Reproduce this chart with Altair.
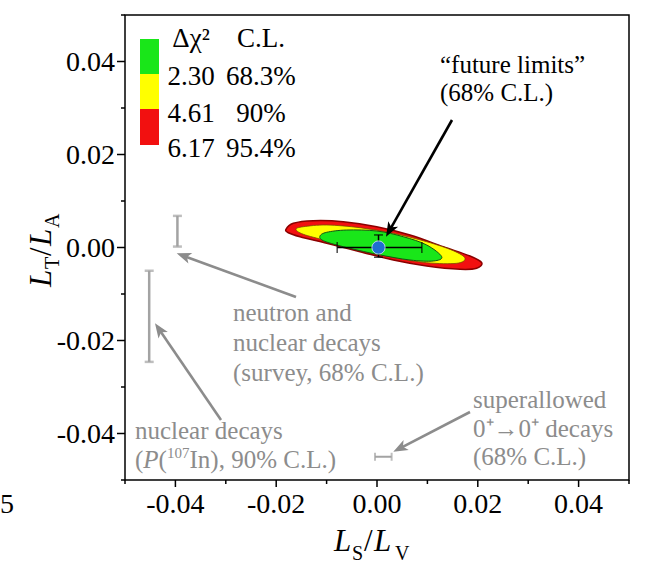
import math
import altair as alt
import pandas as pd

FONT = "Liberation Serif"
GRAY = "#8c8c8c"

# ---------------- axes ----------------
x_domain = [-0.05, 0.05]
y_domain = [-0.05, 0.05]
major_ticks = [-0.04, -0.02, 0.0, 0.02, 0.04]
tick_labels = ["-0.04", "-0.02", "0.00", "0.02", "0.04"]
minor_ticks = [-0.05, -0.03, -0.01, 0.01, 0.03, 0.05]

# ---------------- confidence contours ----------------
red_x = [-0.01806, -0.01661, -0.01264, -0.00669, -0.00006, 0.00655, 0.01315, 0.01845, 0.02077,
         0.01978, 0.01647, 0.00986, 0.00323, -0.00337, -0.00998, -0.01528, -0.01760]
red_y = [0.00391, 0.00520, 0.00576, 0.00555, 0.00447, 0.00269, 0.00017, -0.00183, -0.00327,
         -0.00447, -0.00469, -0.00398, -0.00269, -0.00090, 0.00090, 0.00232, 0.00318]
yellow_x = [-0.01607, -0.01462, -0.00998, -0.00337, 0.00323, 0.00986, 0.01514, 0.01746, 0.01581,
            0.00986, 0.00323, -0.00337, -0.00998, -0.01462]
yellow_y = [0.00391, 0.00447, 0.00484, 0.00426, 0.00305, 0.00125, -0.00069, -0.00232, -0.00340,
            -0.00327, -0.00211, -0.00039, 0.00146, 0.00284]
green_x = [-0.01131, -0.00998, -0.00601, -0.00006, 0.00522, 0.00986, 0.01284, 0.01117, 0.00655,
           -0.00006, -0.00669, -0.01065]
green_y = [0.00247, 0.00327, 0.00376, 0.00355, 0.00232, 0.00054, -0.00198, -0.00290, -0.00269,
           -0.00146, 0.00017, 0.00146]

# ---------------- "future limits" point with error bars ----------------
fut_x, fut_y = [0.0003], [0.0]
fut_xlo, fut_xhi = [-0.0079], [0.0089]
fut_ylo, fut_yhi = [-0.0021], [0.0027]

# ---------------- existing limits (gray) ----------------
gv_x = [-0.0396, -0.0452]          # vertical bars
gv_lo = [0.0002, -0.0246]
gv_hi = [0.0068, -0.0050]
gh_y = [-0.0450]                   # horizontal bar (superallowed)
gh_lo = [-0.0004]
gh_hi = [0.0029]

# ---------------- arrows (tail -> tip) ----------------
arr_tail_x = [0.01488, -0.01607, -0.03095, 0.01845]
arr_tail_y = [0.02742, -0.01065, -0.03710, -0.03538]
arr_tip_x = [0.00179, -0.03974, -0.04405, 0.00323]
arr_tip_y = [0.00232, -0.00125, -0.01630, -0.04391]
arr_color = ["black", GRAY, GRAY, GRAY]

# ---------------- legend ----------------
leg_colors = ["#19e619", "#ffff00", "#f21010"]
leg_x0, leg_x1 = -0.04702, -0.04325
leg_ytop = [0.04484, 0.03731, 0.02978]
leg_ybot = [0.03731, 0.02978, 0.02204]
leg_col1 = ["Δχ²", "2.30", "4.61", "6.17"]
leg_col2 = ["C.L.", "68.3%", "90%", "95.4%"]
leg_col_x = [-0.03690, -0.02302]
leg_row_y = [0.04312, 0.03495, 0.02699, 0.01946]

# ---------------- annotation texts ----------------
note_text = ["neutron and", "nuclear decays", "(survey, 68% C.L.)",
             "nuclear decays",
             "superallowed", "0⁺→0⁺ decays", "(68% C.L.)",
             "“future limits”", "(68% C.L.)"]
note_x = [-0.02857, -0.02857, -0.02857, -0.04802, 0.01905, 0.01905, 0.01905, 0.0125, 0.0125]
note_y = [-0.01581, -0.02226, -0.02871, -0.04118, -0.03452, -0.04075, -0.04677, 0.03753, 0.03151]
note_color = [GRAY] * 7 + ["black", "black"]

pin_text = ["(", "(", "In), 90% C.L.)"]
pin_x = [-0.04802, -0.04333, -0.03720]
pin_y = [-0.04742, -0.04742, -0.04742]
pin_P_x, pin_P_y = [-0.04637], [-0.04742]
pin_sup_x, pin_sup_y = [-0.04167], [-0.04527]

# ---------------- layout ----------------
W, H = 504, 465
PX_X = W / (x_domain[1] - x_domain[0])
PX_Y = H / (y_domain[1] - y_domain[0])

xsc = alt.Scale(domain=x_domain, nice=False, zero=False)
ysc = alt.Scale(domain=y_domain, nice=False, zero=False)


def X(f):
    return alt.X(f, type="quantitative", scale=xsc, axis=None)


def Y(f):
    return alt.Y(f, type="quantitative", scale=ysc, axis=None)


layers = []

# axis ticks (outside the frame) and tick labels
mj = pd.DataFrame({"v": major_ticks, "t": tick_labels})
mn = pd.DataFrame({"v": minor_ticks})
layers.append(alt.Chart(mj).mark_rule(color="black", strokeWidth=1.5).encode(
    x=X("v"), y=alt.value(H), y2=alt.value(H + 7)))
layers.append(alt.Chart(mj).mark_rule(color="black", strokeWidth=1.5).encode(
    y=Y("v"), x=alt.value(0), x2=alt.value(-8)))
layers.append(alt.Chart(mn).mark_rule(color="black", strokeWidth=1.5).encode(
    x=X("v"), y=alt.value(H), y2=alt.value(H + 4)))
layers.append(alt.Chart(mn).mark_rule(color="black", strokeWidth=1.5).encode(
    y=Y("v"), x=alt.value(0), x2=alt.value(-4)))
layers.append(alt.Chart(mj).mark_text(font=FONT, fontSize=28, align="center",
                                      baseline="alphabetic", color="black").encode(
    x=X("v"), y=alt.value(H + 33), text="t:N"))
layers.append(alt.Chart(mj).mark_text(font=FONT, fontSize=28, align="right",
                                      baseline="alphabetic", dy=9.5, color="black").encode(
    y=Y("v"), x=alt.value(-10), text="t:N"))


def contour(xs, ys, fill, stroke, sw):
    df = pd.DataFrame({"x": xs, "y": ys, "i": list(range(len(xs)))})
    return alt.Chart(df).mark_line(fill=fill, stroke=stroke, strokeWidth=sw,
                                   interpolate="cardinal-closed").encode(
        x=X("x"), y=Y("y"), order=alt.Order("i:Q"))


layers.append(contour(red_x, red_y, "#f21010", "#8b0000", 1.5))
layers.append(contour(yellow_x, yellow_y, "#ffff00", "#7a4a00", 0.8))
layers.append(contour(green_x, green_y, "#19e619", "#145214", 1.0))

# gray vertical error bars
gv = pd.DataFrame({"x": gv_x, "lo": gv_lo, "hi": gv_hi})
layers.append(alt.Chart(gv).mark_rule(color="#a3a3a3", strokeWidth=2.5).encode(
    x=X("x"), y=Y("lo"), y2="hi"))
gv_caps = pd.DataFrame({"x": gv_x + gv_x, "y": gv_lo + gv_hi})
layers.append(alt.Chart(gv_caps).mark_tick(color="#a3a3a3", orient="horizontal", size=9,
                                           thickness=2.5).encode(x=X("x"), y=Y("y")))
# gray horizontal error bar
gh = pd.DataFrame({"y": gh_y, "lo": gh_lo, "hi": gh_hi})
layers.append(alt.Chart(gh).mark_rule(color="#a3a3a3", strokeWidth=2).encode(
    y=Y("y"), x=X("lo"), x2="hi"))
gh_caps = pd.DataFrame({"x": gh_lo + gh_hi, "y": gh_y + gh_y})
layers.append(alt.Chart(gh_caps).mark_tick(color="#a3a3a3", orient="vertical", size=8,
                                           thickness=2).encode(x=X("x"), y=Y("y")))

# future limits error bars
fb = pd.DataFrame({"x": fut_x, "y": fut_y, "xlo": fut_xlo, "xhi": fut_xhi,
                   "ylo": fut_ylo, "yhi": fut_yhi})
layers.append(alt.Chart(fb).mark_rule(color="black", strokeWidth=1.5).encode(
    y=Y("y"), x=X("xlo"), x2="xhi"))
layers.append(alt.Chart(fb).mark_rule(color="black", strokeWidth=1.5).encode(
    x=X("x"), y=Y("ylo"), y2="yhi"))
fcx = pd.DataFrame({"x": fut_xlo + fut_xhi, "y": fut_y + fut_y})
layers.append(alt.Chart(fcx).mark_tick(color="black", orient="vertical", size=11,
                                       thickness=1.5).encode(x=X("x"), y=Y("y")))
fcy = pd.DataFrame({"x": fut_x + fut_x, "y": fut_ylo + fut_yhi})
layers.append(alt.Chart(fcy).mark_tick(color="black", orient="horizontal", size=9,
                                       thickness=1.5).encode(x=X("x"), y=Y("y")))
layers.append(alt.Chart(pd.DataFrame({"x": fut_x, "y": fut_y})).mark_point(
    shape="circle", filled=True, size=175, color="#1f6fd1", stroke="#d8e4f5",
    strokeWidth=0.8, opacity=1).encode(x=X("x"), y=Y("y")))

# arrows
rows = []
for tx, ty, hx, hy, c in zip(arr_tail_x, arr_tail_y, arr_tip_x, arr_tip_y, arr_color):
    dxp = (hx - tx) * PX_X
    dyp = -(hy - ty) * PX_Y
    n = math.hypot(dxp, dyp)
    ang = math.degrees(math.atan2(dxp, -dyp)) % 360
    back = 9.0
    ex = hx - (dxp / n) * back / PX_X
    ey = hy + (dyp / n) * back / PX_Y
    rows.append({"tx": tx, "ty": ty, "ex": ex, "ey": ey, "hx": hx, "hy": hy,
                 "ang": ang, "c": c})
arr = pd.DataFrame(rows)
layers.append(alt.Chart(arr).mark_rule(strokeWidth=2.6).encode(
    x=X("tx"), y=Y("ty"), x2="ex", y2="ey", color=alt.Color("c:N", scale=None)))
layers.append(alt.Chart(arr).mark_point(
    shape="M0,0L0.7,1.8L0,1.35L-0.7,1.8Z", filled=True, size=260, opacity=1).encode(
    x=X("hx"), y=Y("hy"), angle=alt.Angle("ang:Q", scale=None),
    color=alt.Color("c:N", scale=None)))

# legend boxes
lg = pd.DataFrame({"x0": [leg_x0] * 3, "x1": [leg_x1] * 3, "yt": leg_ytop, "yb": leg_ybot,
                   "c": leg_colors})
layers.append(alt.Chart(lg).mark_rect().encode(
    x=X("x0"), x2="x1", y=Y("yt"), y2="yb", color=alt.Color("c:N", scale=None)))
lt = pd.DataFrame({"t": leg_col1 + leg_col2,
                   "x": [leg_col_x[0]] * 4 + [leg_col_x[1]] * 4,
                   "y": leg_row_y + leg_row_y})
layers.append(alt.Chart(lt).mark_text(font=FONT, fontSize=27, align="center",
                                      baseline="alphabetic", color="black").encode(
    x=X("x"), y=Y("y"), text="t:N"))

# annotations
nt = pd.DataFrame({"t": note_text, "x": note_x, "y": note_y, "c": note_color})
layers.append(alt.Chart(nt).mark_text(font=FONT, fontSize=25, align="left",
                                      baseline="alphabetic").encode(
    x=X("x"), y=Y("y"), text="t:N", color=alt.Color("c:N", scale=None)))
pn = pd.DataFrame({"t": pin_text, "x": pin_x, "y": pin_y})
layers.append(alt.Chart(pn).mark_text(font=FONT, fontSize=25, align="left",
                                      baseline="alphabetic", color=GRAY).encode(
    x=X("x"), y=Y("y"), text="t:N"))
layers.append(alt.Chart(pd.DataFrame({"x": pin_P_x, "y": pin_P_y, "t": ["P"]})).mark_text(
    font=FONT, fontSize=25, fontStyle="italic", align="left", baseline="alphabetic",
    color=GRAY).encode(x=X("x"), y=Y("y"), text="t:N"))
layers.append(alt.Chart(pd.DataFrame({"x": pin_sup_x, "y": pin_sup_y, "t": ["107"]})).mark_text(
    font=FONT, fontSize=15, align="left", baseline="alphabetic", color=GRAY).encode(
    x=X("x"), y=Y("y"), text="t:N"))

# axis titles composed of pieces (view pixel coords)
dummy = pd.DataFrame({"d": [0]})


def piece(text, px, py, size, italic=False, angle=0, align="left"):
    return alt.Chart(dummy).mark_text(
        text=text, font=FONT, fontSize=size, fontStyle="italic" if italic else "normal",
        align=align, baseline="alphabetic", angle=angle, color="black").encode(
        x=alt.value(px), y=alt.value(py))


# x title: L_S / L_V
layers += [piece("L", 209, 536, 31, True), piece("S", 227, 545, 20),
           piece("/", 239, 536, 31), piece("L", 249, 536, 31, True),
           piece("V", 270, 545, 20)]
# y title: L_T / L_A (rotated)
layers += [piece("L", -74, 272, 31, True, 270), piece("T", -66, 254, 20, False, 270),
           piece("/", -74, 241, 31, False, 270), piece("L", -74, 231, 31, True, 270),
           piece("A", -66, 213, 20, False, 270)]
# glyph at the left edge of the picture
layers.append(piece("5", -125, 498, 28, align="left"))

chart = alt.layer(*layers).properties(
    width=W, height=H,
    padding={"left": 125, "top": 15, "right": 38, "bottom": 97},
    autosize=alt.AutoSizeParams(type="none"),
).configure_view(stroke="black", strokeWidth=1.5)

chart.save("out.html", embed_options={"renderer": "svg", "actions": False})
